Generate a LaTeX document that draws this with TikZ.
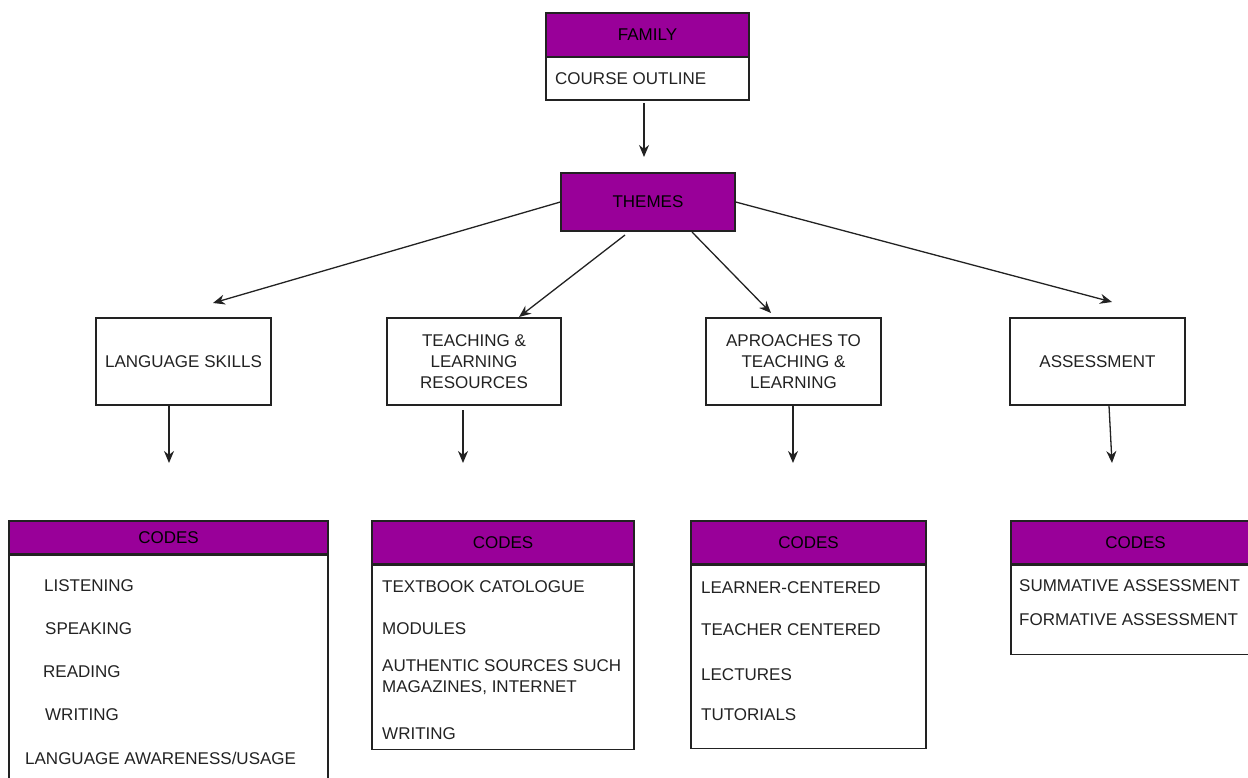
\documentclass[tikz,border=0pt]{standalone}
\usepackage{fontspec}
\setmainfont{Liberation Sans}
\usetikzlibrary{arrows.meta}
\definecolor{hdr}{HTML}{990099}
\definecolor{ink}{HTML}{222222}
\tikzset{
  box/.style={draw=ink, line width=1.3pt, rectangle, inner sep=0pt, align=center,
    font=\fontsize{17}{21}\selectfont, text=ink},
  hbox/.style={box, fill=hdr, text=black},
  item/.style={anchor=west, inner sep=0pt, align=left,
    font=\fontsize{17}{20.5}\selectfont, text=ink},
  link/.style={draw=ink, line width=1.3pt, -{Stealth[length=12pt,width=10pt]}},
}
\begin{document}
\begin{tikzpicture}[x=1pt,y=-1pt]
\useasboundingbox (0,0) rectangle (1248,778);
\clip (0,0) rectangle (1248,778);

% top: family card and themes
\node[hbox, minimum width=203pt, minimum height=44pt] (fam) at (647.5,35) {FAMILY};
\node[box, minimum width=203pt, minimum height=43pt] (course) at (647.5,78.5) {};
\node[item] (courseTxt) at (555,79) {COURSE OUTLINE};
\node[hbox, minimum width=174pt, minimum height=58pt] (themes) at (648,202) {THEMES};

% second level boxes
\node[box, minimum width=175pt, minimum height=87pt] (ls)  at (183.5,361.5) {LANGUAGE SKILLS};
\node[box, minimum width=174pt, minimum height=87pt] (tlr) at (474,361.5) {TEACHING \&\\LEARNING\\RESOURCES};
\node[box, minimum width=175pt, minimum height=87pt] (atl) at (793.5,361.5) {APROACHES TO\\TEACHING \&\\LEARNING};
\node[box, minimum width=175pt, minimum height=87pt] (as)  at (1097.5,361.5) {ASSESSMENT};

% arrow ends
\coordinate (fTip) at (644,157);
\coordinate (fTail) at (644,103);
\coordinate (tTLR) at (625,235);
\coordinate (tATL) at (692,232);
\coordinate (aLS)  at (213,303);
\coordinate (aTLR) at (519,317);
\coordinate (aATL) at (771,313);
\coordinate (aAS)  at (1112,302);
\coordinate (sTLR) at (463,410);
\coordinate (dLS)  at (169,463);
\coordinate (dTLR) at (463,463);
\coordinate (dATL) at (793,463);
\coordinate (dAS)  at (1112,463);

\draw[link] (fTail) -- (fTip);
\draw[link] (themes.west) -- (aLS);
\draw[link] (tTLR) -- (aTLR);
\draw[link] (tATL) -- (aATL);
\draw[link] (themes.east) -- (aAS);

\draw[link] (ls.south -| dLS) -- (dLS);
\draw[link] (sTLR) -- (dTLR);
\draw[link] (atl.south -| dATL) -- (dATL);
\draw[link] ([xshift=11.5pt]as.south) -- (dAS);

% code cards
\node[hbox, minimum width=319pt, minimum height=33pt] (c1h) at (168.5,537.5) {CODES};
\node[box, anchor=north, minimum width=319pt, minimum height=250pt] (c1) at (c1h.south) {};
\node[hbox, minimum width=262pt, minimum height=43pt] (c2h) at (503,542.5) {CODES};
\node[box, anchor=north, minimum width=262pt, minimum height=184pt] (c2) at (c2h.south) {};
\node[hbox, minimum width=235pt, minimum height=43pt] (c3h) at (808.5,542.5) {CODES};
\node[box, anchor=north, minimum width=235pt, minimum height=183pt] (c3) at (c3h.south) {};
\node[hbox, minimum width=249pt, minimum height=43pt] (c4h) at (1135.5,542.5) {CODES};
\node[box, anchor=north, minimum width=249pt, minimum height=89pt] (c4) at (c4h.south) {};

% code items
\node[item] (c1a) at (44,586) {LISTENING};
\node[item] (c1b) at (45,629) {SPEAKING};
\node[item] (c1c) at (43,672) {READING};
\node[item] (c1d) at (45,715) {WRITING};
\node[item] (c1e) at (25,758) {LANGUAGE AWARENESS/USAGE};

\node[item] (c2a) at (382,587) {TEXTBOOK CATOLOGUE};
\node[item] (c2b) at (382,629) {MODULES};
\node[item] (c2c) at (382,677) {AUTHENTIC SOURCES SUCH\\MAGAZINES, INTERNET};
\node[item] (c2d) at (382,734) {WRITING};

\node[item] (c3a) at (701,588) {LEARNER-CENTERED};
\node[item] (c3b) at (701,630) {TEACHER CENTERED};
\node[item] (c3c) at (701,675) {LECTURES};
\node[item] (c3d) at (701,715) {TUTORIALS};

\node[item] (c4a) at (1019,586) {SUMMATIVE ASSESSMENT};
\node[item] (c4b) at (1019,620) {FORMATIVE ASSESSMENT};
\end{tikzpicture}
\end{document}
